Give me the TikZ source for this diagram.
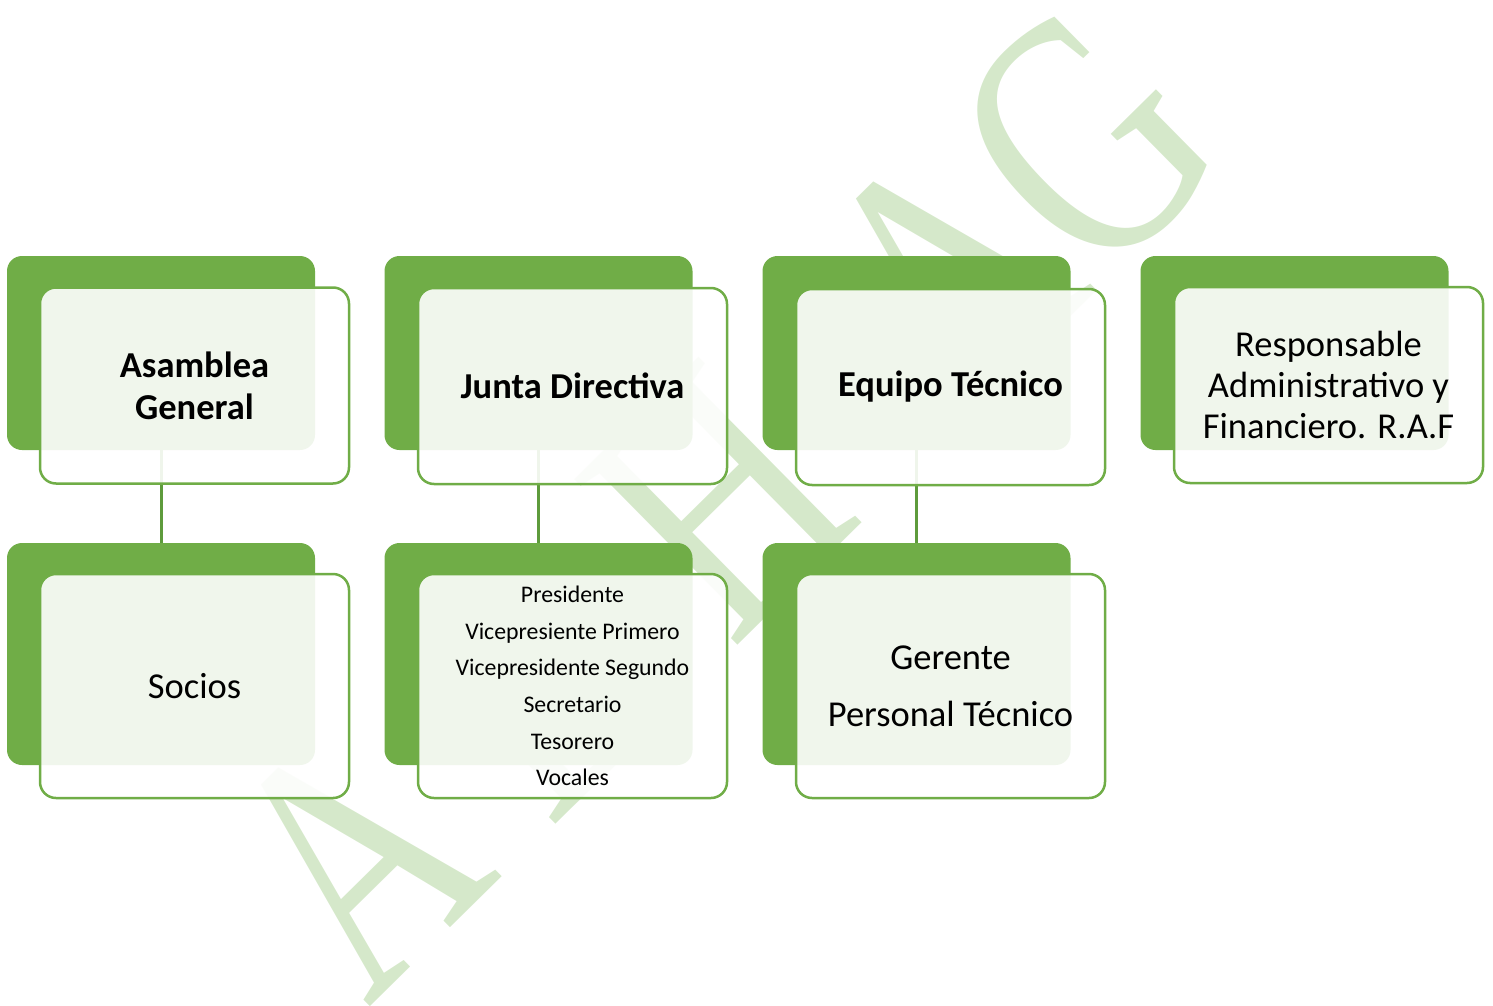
\documentclass[tikz,border=0pt]{standalone}
\usepackage{fontspec}
\setmainfont{Carlito}
\newfontfamily\wmfont{Liberation Serif}
\definecolor{boxgreen}{HTML}{70AD47}
\definecolor{linegreen}{HTML}{5E9B3C}
\definecolor{wmgreen}{HTML}{D5E8CA}
\tikzset{
  darkbox/.style={fill=boxgreen, rounded corners=15pt, minimum width=308pt, inner sep=0pt},
  outbox/.style={draw=boxgreen, line width=2.5pt, fill=white, fill opacity=0.9, text opacity=1,
    rounded corners=16pt, minimum width=309pt, align=center, inner sep=0pt, text=black},
  bigtext/.style={font=\fontsize{36.5}{42}\selectfont},
  raftext/.style={font=\fontsize{36.5}{41}\selectfont},
  boldtext/.style={font=\fontsize{36.5}{42}\selectfont\bfseries},
  listtext/.style={font=\fontsize{23.8}{36.6}\selectfont},
  conn/.style={draw=linegreen, line width=3pt},
  watermark/.style={text=wmgreen, font=\wmfont\fontsize{355}{355}\selectfont, inner sep=0pt}
}
\begin{document}
\begin{tikzpicture}[x=1pt,y=-1pt]
\useasboundingbox (0,0) rectangle (1493,1006);
% watermark
\node[watermark, rotate=44.6, xscale=0.74] (wm) at (720,500) {A D H\hspace{182pt}AG};
% dark back boxes, top row
\node[darkbox, minimum height=194pt] (d1) at (161,353) {};
\node[darkbox, minimum height=194pt] (d2) at (538.5,353) {};
\node[darkbox, minimum height=194pt] (d3) at (916.5,353) {};
\node[darkbox, minimum height=194pt] (d4) at (1294.5,353) {};
% dark back boxes, bottom row
\node[darkbox, minimum height=222pt] (d5) at (161,654) {};
\node[darkbox, minimum height=222pt] (d6) at (538.5,654) {};
\node[darkbox, minimum height=222pt] (d7) at (916.5,654) {};
% connectors
\draw[conn] (d1.south) -- (d5.north);
\draw[conn] (d2.south) -- (d6.north);
\draw[conn] (d3.south) -- (d7.north);
% front boxes, top row
\node[outbox, boldtext, minimum height=196pt] (o1) at (194.5,385.5) {Asamblea\\General};
\node[outbox, boldtext, minimum height=196pt] (o2) at (572.5,386) {Junta Directiva};
\node[outbox, boldtext, minimum height=196pt] (o3) at (950.5,387) {Equipo Técnico};
\node[outbox, raftext, minimum height=196pt] (o4) at (1328.5,385) {Responsable\\Administrativo y\\Financiero. R.A.F};
% front boxes, bottom row
\node[outbox, bigtext, minimum height=224pt] (o5) at (194.5,686) {Socios};
\node[outbox, listtext, minimum height=224pt] (o6) at (572.5,686) {Presidente\\Vicepresiente Primero\\Vicepresidente Segundo\\Secretario\\Tesorero\\Vocales};
\node[outbox, bigtext, minimum height=224pt] (o7) at (950.5,686) {Gerente\\[15pt]Personal Técnico};
\end{tikzpicture}
\end{document}
